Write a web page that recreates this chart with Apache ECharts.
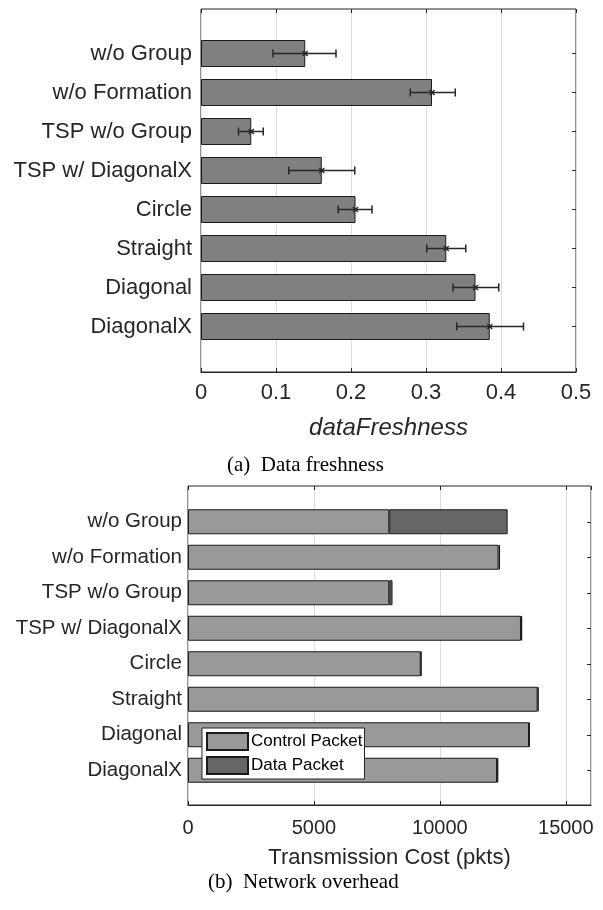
<!DOCTYPE html>
<html>
<head>
<meta charset="utf-8">
<script src="https://cdn.jsdelivr.net/npm/echarts@6/dist/echarts.min.js"></script>
<style>
  html, body { margin: 0; padding: 0; background: #fff; }
  #chart { width: 603px; height: 910px; }
</style>
</head>
<body>
<div id="chart"></div>
<script>
// Shared category labels (top to bottom)
const categories = ['w/o Group', 'w/o Formation', 'TSP w/o Group', 'TSP w/ DiagonalX',
                    'Circle', 'Straight', 'Diagonal', 'DiagonalX'];

// (a) data freshness: mean with lower / upper error bounds
const freshMean = [0.139, 0.308, 0.067, 0.161, 0.206, 0.327, 0.366, 0.385];
const freshLow  = [0.096, 0.279, 0.050, 0.117, 0.183, 0.301, 0.336, 0.341];
const freshHigh = [0.180, 0.339, 0.083, 0.205, 0.228, 0.353, 0.397, 0.430];
const freshTicks = [0, 0.1, 0.2, 0.3, 0.4, 0.5];

// (b) network overhead in packets, stacked
const controlPkts = [7990, 12330, 7990, 13220, 9240, 13880, 13540, 12270];
const dataPkts    = [4700, 60, 130, 50, 30, 40, 30, 50];
const costTicks = [0, 5000, 10000, 15000];

const FONT = 'Liberation Sans';
const INK = '#262626';

const errorData = categories.map((c, i) => [i, freshLow[i], freshHigh[i], freshMean[i]]);

function renderError(params, api) {
  const cat = api.value(0);
  const pLo = api.coord([api.value(1), cat]);
  const pHi = api.coord([api.value(2), cat]);
  const pM = api.coord([api.value(3), cat]);
  const cap = 4, m = 2.5;
  const st = { stroke: INK, lineWidth: 1.5 };
  return {
    type: 'group',
    children: [
      { type: 'line', shape: { x1: pLo[0], y1: pLo[1], x2: pHi[0], y2: pHi[1] }, style: st },
      { type: 'line', shape: { x1: pLo[0], y1: pLo[1] - cap, x2: pLo[0], y2: pLo[1] + cap }, style: st },
      { type: 'line', shape: { x1: pHi[0], y1: pHi[1] - cap, x2: pHi[0], y2: pHi[1] + cap }, style: st },
      { type: 'line', shape: { x1: pM[0] - m, y1: pM[1] - m, x2: pM[0] + m, y2: pM[1] + m }, style: st },
      { type: 'line', shape: { x1: pM[0] - m, y1: pM[1] + m, x2: pM[0] + m, y2: pM[1] - m }, style: st }
    ]
  };
}

const tickStyle = { show: true, inside: true, length: 4, lineStyle: { color: INK, width: 1 } };
const gridLine = { show: true, lineStyle: { color: '#dedede', width: 1 } };

// Bottom axis with labels + mirrored top axis carrying only inward ticks
function frameX(gridIndex, min, max, interval, fontSize, margin, name, nameStyle, nameGap) {
  return [
    {
      gridIndex, type: 'value', position: 'bottom', min, max, interval,
      axisLine: { show: true, lineStyle: { color: INK } },
      axisTick: tickStyle, splitLine: gridLine,
      axisLabel: { color: INK, fontFamily: FONT, fontSize, margin,
                   formatter: v => String(v) },
      name, nameLocation: 'middle', nameGap,
      nameTextStyle: Object.assign({ color: INK, fontFamily: FONT }, nameStyle)
    },
    {
      gridIndex, type: 'value', position: 'top', min, max, interval,
      axisLine: { show: false }, axisTick: tickStyle,
      axisLabel: { show: false }, splitLine: { show: false }
    }
  ];
}

// Category axis on the left with labels, mirrored on the right with ticks only
function catY(gridIndex, fontSize, margin) {
  return [
    {
      gridIndex, type: 'category', data: categories, inverse: true, position: 'left',
      axisLine: { show: false },
      axisTick: Object.assign({ alignWithLabel: true }, tickStyle),
      axisLabel: { color: INK, fontFamily: FONT, fontSize, margin }
    },
    {
      gridIndex, type: 'category', data: categories, inverse: true, position: 'right',
      axisLine: { show: false },
      axisTick: Object.assign({ alignWithLabel: true }, tickStyle),
      axisLabel: { show: false }
    }
  ];
}

const captionStyle = { fontFamily: 'Liberation Serif', fontWeight: 'normal', fontSize: 21, color: '#000' };

const option = {
  animation: false,
  backgroundColor: '#fff',
  title: [
    { text: '(a)  Data freshness', left: 222, top: 450, textStyle: captionStyle },
    { text: '(b)  Network overhead', left: 203, top: 867, textStyle: captionStyle }
  ],
  legend: {
    orient: 'vertical', left: 202, top: 728,
    data: ['Control Packet', 'Data Packet'],
    itemWidth: 41, itemHeight: 17, itemGap: 5,
    padding: [4, 2, 4, 4],
    backgroundColor: '#fff', borderColor: INK, borderWidth: 1, borderRadius: 0,
    textStyle: { fontFamily: FONT, fontSize: 17, color: '#000', padding: [0, 0, 0, -2] },
    icon: 'rect'
  },
  grid: [
    // (a) frame and bar area
    { left: 201, top: 9, width: 375, height: 363, show: true, borderColor: INK, borderWidth: 1, backgroundColor: 'transparent' },
    { left: 201, top: 34, width: 375, height: 312 },
    // (b) frame and bar area
    { left: 188, top: 486, width: 403, height: 319, show: true, borderColor: INK, borderWidth: 1, backgroundColor: 'transparent' },
    { left: 188, top: 504, width: 403, height: 284 }
  ],
  xAxis: [
    ...frameX(0, 0, 0.5, 0.1, 22, 10, 'dataFreshness', { fontSize: 24, fontStyle: 'italic' }, 44),
    { gridIndex: 1, type: 'value', min: 0, max: 0.5, show: false },
    ...frameX(2, 0, 16000, 5000, 20, 13, 'Transmission Cost (pkts)', { fontSize: 22 }, 42),
    { gridIndex: 3, type: 'value', min: 0, max: 16000, show: false }
  ],
  yAxis: [
    { gridIndex: 0, type: 'value', min: 0, max: 1, show: false },
    ...catY(1, 22, 9),
    { gridIndex: 2, type: 'value', min: 0, max: 1, show: false },
    ...catY(3, 20.5, 6)
  ],
  series: [
    {
      type: 'bar', xAxisIndex: 2, yAxisIndex: 1, data: freshMean, barWidth: 27,
      itemStyle: { color: '#808080', borderColor: '#1a1a1a', borderWidth: 1 }
    },
    {
      type: 'custom', xAxisIndex: 2, yAxisIndex: 1, data: errorData,
      encode: { x: [1, 2, 3], y: 0 }, renderItem: renderError, z: 5
    },
    {
      name: 'Control Packet', type: 'bar', stack: 'cost', xAxisIndex: 5, yAxisIndex: 5,
      data: controlPkts, barWidth: 25,
      itemStyle: { color: '#999999', borderColor: '#1a1a1a', borderWidth: 1 }
    },
    {
      name: 'Data Packet', type: 'bar', stack: 'cost', xAxisIndex: 5, yAxisIndex: 5,
      data: dataPkts, barWidth: 25,
      itemStyle: { color: '#666666', borderColor: '#1a1a1a', borderWidth: 1 }
    }
  ]
};

const chart = echarts.init(document.getElementById('chart'), null, { renderer: 'canvas' });
chart.setOption(option);
</script>
</body>
</html>
